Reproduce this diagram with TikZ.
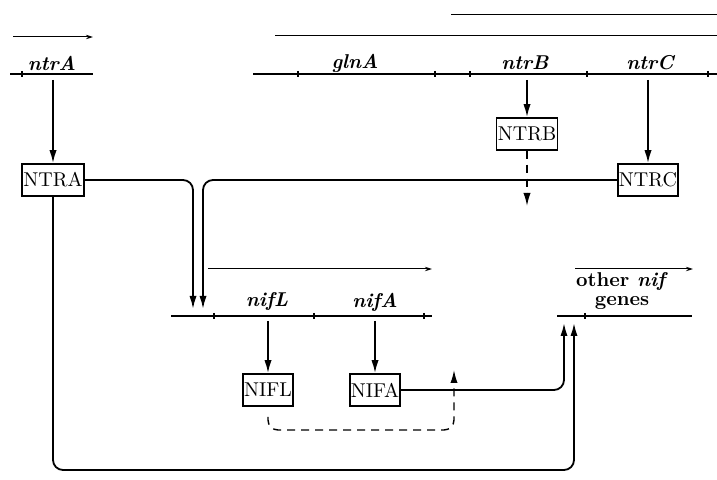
\documentclass[tikz,border=0pt]{standalone}
\usepackage{tikz}
\usetikzlibrary{arrows.meta,positioning}
\tikzset{
  ar/.style={-{Latex[length=6.5pt,width=3.6pt]},line width=0.9pt},
  dar/.style={ar,dash pattern=on 4pt off 3pt,line width=0.7pt},
  gene/.style={line width=0.9pt},
  gtick/.style={line width=0.6pt},
  tx/.style={-{Stealth[length=3.5pt,width=2.2pt]},line width=0.5pt},
  pbox/.style={draw,line width=0.75pt,inner sep=0.6pt,minimum height=16pt},
  glab/.style={font=\bfseries\itshape,inner sep=1pt}
}
\begin{document}
\begin{tikzpicture}[x=0.5pt,y=-0.5pt]
\useasboundingbox (0,0) rectangle (717,480);
% transcripts
\draw[tx] (13,37)--(93,37);
\draw[line width=0.5pt] (275,36)--(717,36);
\draw[line width=0.5pt] (451,15)--(717,15);
\draw[tx] (208,269)--(432,269);
\draw[tx] (575,269)--(693,269);
% genes
\draw[gene] (10,74)--(93,74);
\draw[gene] (253,74)--(717,74);
\draw[gene] (171,316)--(432,316);
\draw[gene] (557,316)--(692,316);
\foreach \t in {22} \draw[gtick] (\t,71)--(\t,77);
\foreach \t in {298,435,470,587,708} \draw[gtick] (\t,71)--(\t,77);
\foreach \t in {214,314,424,585} \draw[gtick] (\t,313)--(\t,319);
\node[glab] (lntrA) at (52,63) {ntrA};
\node[glab] (lglnA) at (355,63) {glnA};
\node[glab] (lntrB) at (525,63) {ntrB};
\node[glab] (lntrC) at (650,63) {ntrC};
\node[glab] (lnifL) at (267,302) {nifL};
\node[glab] (lnifA) at (375,302) {nifA};
\node[align=center,inner sep=1pt,font=\bfseries\linespread{0.8}\selectfont] (lother) at (622,291) {other \textit{nif}\\genes};
% proteins
\node[pbox] (NTRA) at (53,180) {NTRA};
\node[pbox] (NTRB) at (527,134) {NTRB};
\node[pbox] (NTRC) at (648,180) {NTRC};
\node[pbox] (NIFL) at (268,390) {NIFL};
\node[pbox] (NIFA) at (375,390) {NIFA};
\coordinate (gntrA) at (53,80);
\coordinate (gntrB) at (527,80);
\coordinate (gntrC) at (648,80);
\coordinate (gnifL) at (268,321);
\coordinate (gnifA) at (375,321);
\coordinate (nifin1) at (193,309);
\coordinate (nifin2) at (203,309);
\coordinate (othin1) at (564,323);
\coordinate (othin2) at (574,323);
\coordinate (ntrBout) at (527,206);
\coordinate (dcorner) at (454,430);
\coordinate (nifAback) at (454,370);
\coordinate (bcorner) at (574,470);
\draw[ar] (gntrA)--(NTRA);
\draw[ar] (gntrB)--(NTRB);
\draw[ar] (gntrC)--(NTRC);
\draw[ar] (gnifL)--(NIFL);
\draw[ar] (gnifA)--(NIFA);
\draw[dar] (NTRB)--(ntrBout);
\draw[ar,rounded corners=5pt] (NTRA.east) -| (nifin1);
\draw[ar,rounded corners=5pt] (NTRC.west) -| (nifin2);
\draw[ar,rounded corners=5pt] (NIFA.east) -| (othin1);
\draw[ar,rounded corners=5pt] (NTRA.south) |- (bcorner) -- (othin2);
\draw[dar,rounded corners=5pt,shorten <=5pt] (NIFL.south) |- (dcorner) -- (nifAback);
\end{tikzpicture}
\end{document}
